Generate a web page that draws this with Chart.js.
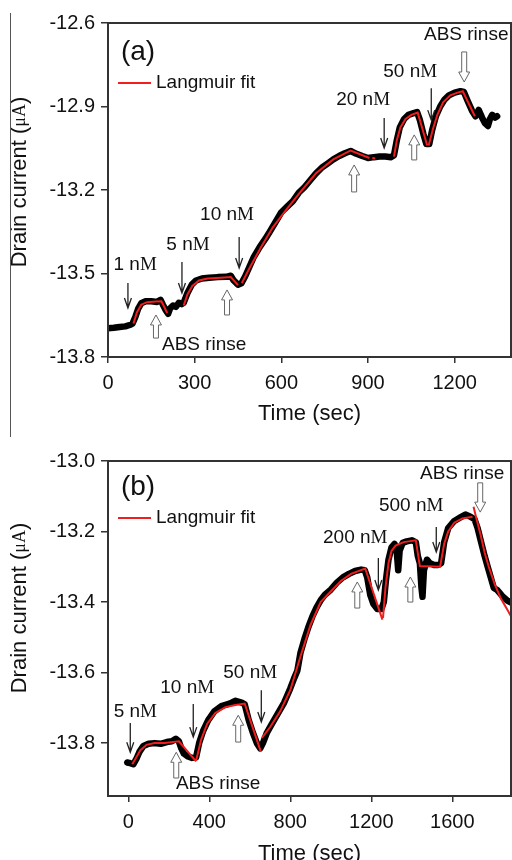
<!DOCTYPE html>
<html>
<head>
<meta charset="utf-8">
<script src="https://cdn.jsdelivr.net/npm/chart.js@4.4.0/dist/chart.umd.min.js"></script>
<style>
body{margin:0;width:512px;height:860px;overflow:hidden;background:#fff;position:relative}
#chartA{position:absolute;left:0;top:0}
#chartB{position:absolute;left:0;top:430px}
#rule{position:absolute;left:10px;top:13px;width:1px;height:424px;background:#555;z-index:2}
</style>
</head>
<body>
<canvas id="chartA" width="512" height="430"></canvas>
<canvas id="chartB" width="512" height="440"></canvas>
<div id="rule"></div>
<script>
// ---- panel (a) ----
const timeA = [0,20,40,60,75,85,95,105,115,130,150,170,182,190,200,208,215,225,235,245,255,262,275,290,305,325,350,380,410,425,435,450,462,475,490,505,525,545,560,580,600,620,640,660,680,700,720,740,760,780,800,820,840,860,880,900,920,940,960,980,990,1000,1010,1025,1040,1055,1070,1080,1092,1102,1112,1122,1135,1150,1165,1180,1200,1220,1232,1245,1260,1272,1283,1295,1305,1315,1322,1330,1340,1347];
const currentA = [-13.697,-13.695,-13.692,-13.69,-13.685,-13.68,-13.655,-13.625,-13.607,-13.6,-13.6,-13.602,-13.595,-13.612,-13.632,-13.645,-13.625,-13.615,-13.62,-13.605,-13.61,-13.605,-13.57,-13.54,-13.525,-13.518,-13.515,-13.513,-13.512,-13.508,-13.525,-13.54,-13.535,-13.51,-13.475,-13.44,-13.405,-13.375,-13.35,-13.315,-13.28,-13.26,-13.24,-13.21,-13.19,-13.165,-13.14,-13.12,-13.105,-13.09,-13.078,-13.068,-13.06,-13.07,-13.078,-13.085,-13.082,-13.08,-13.08,-13.082,-13.075,-13.02,-12.975,-12.945,-12.93,-12.925,-12.92,-12.95,-13.0,-13.035,-13.035,-12.985,-12.935,-12.9,-12.875,-12.86,-12.85,-12.845,-12.848,-12.88,-12.915,-12.935,-12.912,-12.94,-12.96,-12.97,-12.945,-12.93,-12.94,-12.935];
const fitTimeA = [88,100,115,135,165,185,205,null,262,275,292,315,345,390,425,450,null,463,490,530,570,610,660,720,780,840,905,null,915,925,null,990,1000,1012,1030,1050,1072,1105,null,1110,1125,1140,1160,1185,1210,1228,1270];
const fitCurrentA = [-13.68,-13.64,-13.612,-13.603,-13.601,-13.6,-13.642,null,-13.615,-13.575,-13.545,-13.525,-13.518,-13.515,-13.513,-13.542,null,-13.535,-13.48,-13.405,-13.335,-13.28,-13.215,-13.14,-13.09,-13.058,-13.085,null,-13.085,-13.087,null,-13.08,-13.02,-12.975,-12.945,-12.93,-12.922,-13.04,null,-13.04,-12.98,-12.93,-12.885,-12.86,-12.85,-12.845,-12.935];
const xTicksA = [0,300,600,900,1200];
const yTicksA = [-13.8,-13.5,-13.2,-12.9,-12.6];
const doseA = ['1','5','10','20','50'];
const doseArrowA = [[69,-13.534,-13.624],[256,-13.459,-13.57],[454,-13.369,-13.48],[956,-12.941,-13.049],[1119,-12.834,-12.949]];
const doseLabelA = [[94,-13.47],[277,-13.398],[412,-13.29],[883,-12.877],[1046,-12.776]];
const rinseArrowA = [[166,-13.732,-13.649],[412,-13.649,-13.559],[852,-13.207,-13.11],[1060,-13.092,-13.002],[1233,-12.704,-12.812]];
const rinseLabelA = [[333,-13.757],[1240,-12.643]];

// ---- panel (b) ----
const timeB = [-5,10,25,40,55,75,100,130,160,190,215,235,250,262,275,295,315,335,350,370,395,425,460,500,530,560,575,595,615,635,652,665,685,710,740,770,800,820,835,850,870,890,910,930,950,970,1000,1030,1060,1090,1120,1150,1168,1180,1195,1210,1230,1250,1262,1272,1285,1300,1315,1325,1333,1340,1355,1375,1400,1420,1430,1440,1448,1453,1460,1475,1490,1510,1530,1545,1560,1580,1610,1640,1665,1690,1710,1725,1740,1760,1775,1790,1805,1820,1835,1850,1870,1886];
const currentB = [-13.855,-13.857,-13.86,-13.845,-13.825,-13.808,-13.802,-13.8,-13.802,-13.797,-13.795,-13.788,-13.795,-13.815,-13.83,-13.838,-13.842,-13.84,-13.8,-13.765,-13.735,-13.71,-13.695,-13.688,-13.68,-13.685,-13.69,-13.735,-13.77,-13.8,-13.815,-13.8,-13.77,-13.745,-13.715,-13.685,-13.645,-13.615,-13.595,-13.545,-13.505,-13.47,-13.44,-13.415,-13.395,-13.38,-13.365,-13.345,-13.33,-13.32,-13.312,-13.308,-13.31,-13.33,-13.38,-13.405,-13.42,-13.42,-13.4,-13.34,-13.28,-13.245,-13.235,-13.25,-13.31,-13.255,-13.232,-13.228,-13.225,-13.23,-13.27,-13.29,-13.36,-13.385,-13.31,-13.28,-13.29,-13.295,-13.295,-13.29,-13.23,-13.19,-13.17,-13.16,-13.152,-13.158,-13.165,-13.19,-13.225,-13.27,-13.3,-13.33,-13.36,-13.365,-13.375,-13.385,-13.395,-13.4];
const fitTimeB = [20,40,60,90,130,180,250,335,null,335,360,390,430,480,530,575,655,null,660,700,750,800,850,900,950,1000,1050,1100,1170,1255,null,1258,1270,1285,1300,1320,1360,1420,1440,1540,1560,1580,1610,1650,1700,null,1705,1720,1740,1760,1780,1810,1840,1870,1890];
const fitCurrentB = [-13.86,-13.84,-13.82,-13.805,-13.8,-13.8,-13.795,-13.852,null,-13.85,-13.79,-13.745,-13.715,-13.698,-13.692,-13.688,-13.825,null,-13.785,-13.755,-13.71,-13.65,-13.555,-13.465,-13.4,-13.37,-13.34,-13.32,-13.305,-13.45,null,-13.445,-13.36,-13.29,-13.255,-13.24,-13.23,-13.225,-13.298,-13.3,-13.235,-13.2,-13.175,-13.163,-13.158,null,-13.13,-13.165,-13.21,-13.26,-13.3,-13.35,-13.39,-13.42,-13.44];
const xTicksB = [0,400,800,1200,1600];
const yTicksB = [-13.8,-13.6,-13.4,-13.2,-13.0];
const doseB = ['5','10','50','200','500'];
const doseArrowB = [[10,-13.743,-13.826],[321,-13.689,-13.783],[657,-13.65,-13.74],[1235,-13.275,-13.366],[1521,-13.187,-13.258]];
const doseLabelB = [[35,-13.712],[291,-13.644],[602,-13.601],[1121,-13.218],[1397,-13.128]];
const rinseArrowB = [[237,-13.899,-13.826],[543,-13.797,-13.721],[1131,-13.417,-13.343],[1393,-13.4,-13.329],[1738,-13.062,-13.145]];
const rinseLabelB = [[444,-13.916],[1649,-13.037]];

Chart.defaults.font.family = '"Liberation Sans", Arial, sans-serif';
Chart.defaults.color = '#111';

const SANS = '"Liberation Sans", Arial, sans-serif';
const SERIF = '"Liberation Serif", "Times New Roman", serif';

function pts(xs, ys) {
    let out = [], last = 0;
    xs.forEach((x, i) => {
        if (x === null) { out.push({x: last, y: null}); }
        else { out.push({x: x, y: ys[i]}); last = x; }
    });
    return out;
}

// draw a run of [text, font] pieces centred on x
function mixed(ctx, parts, x, y) {
    let total = 0;
    const widths = parts.map(p => { ctx.font = p[1]; const w = ctx.measureText(p[0]).width; total += w; return w; });
    let cx = x - total / 2;
    ctx.textAlign = 'left';
    parts.forEach((p, i) => { ctx.font = p[1]; ctx.fillText(p[0], cx, y); cx += widths[i]; });
}

function marks(tag, legY, titleY, doses, doseArrows, doseLabels, rinseArrows, rinseLabels) {
    return {
        id: 'marks' + tag,
        afterDatasetsDraw(chart) {
            const ctx = chart.ctx, xs = chart.scales.x, ys = chart.scales.y;
            const a = chart.chartArea;
            ctx.save();
            // dose arrows
            ctx.strokeStyle = '#222';
            ctx.lineWidth = 1.3;
            doseArrows.forEach(d => {
                const x = xs.getPixelForValue(d[0]), y0 = ys.getPixelForValue(d[1]), y1 = ys.getPixelForValue(d[2]);
                ctx.beginPath();
                ctx.moveTo(x, y0); ctx.lineTo(x, y1);
                ctx.moveTo(x - 3.5, y1 - 10); ctx.lineTo(x, y1); ctx.lineTo(x + 3.5, y1 - 10);
                ctx.stroke();
            });
            // dose labels
            ctx.fillStyle = '#111';
            ctx.textBaseline = 'middle';
            doseLabels.forEach((p, i) => {
                mixed(ctx, [[doses[i] + ' n', '19px ' + SANS], ['M', '19px ' + SERIF]],
                    xs.getPixelForValue(p[0]), ys.getPixelForValue(p[1]));
            });
            // hollow rinse arrows
            ctx.strokeStyle = '#666';
            ctx.fillStyle = '#fff';
            ctx.lineWidth = 1;
            rinseArrows.forEach(r => {
                const x = xs.getPixelForValue(r[0]), yb = ys.getPixelForValue(r[1]), yt = ys.getPixelForValue(r[2]);
                const s = yt < yb ? 1 : -1, h = yt + s * 10;
                ctx.beginPath();
                ctx.moveTo(x - 2.5, yb); ctx.lineTo(x - 2.5, h); ctx.lineTo(x - 5.5, h);
                ctx.lineTo(x, yt); ctx.lineTo(x + 5.5, h); ctx.lineTo(x + 2.5, h);
                ctx.lineTo(x + 2.5, yb); ctx.closePath();
                ctx.fill(); ctx.stroke();
            });
            ctx.fillStyle = '#111';
            ctx.textAlign = 'center';
            ctx.font = '19px ' + SANS;
            rinseLabels.forEach(p => {
                ctx.fillText('ABS rinse', xs.getPixelForValue(p[0]), ys.getPixelForValue(p[1]));
            });
            // panel tag and legend
            ctx.font = '28px ' + SANS;
            ctx.fillText('(' + tag + ')', a.left + 30, a.top + legY - 31);
            ctx.strokeStyle = 'rgb(240,30,30)';
            ctx.lineWidth = 2;
            ctx.beginPath();
            ctx.moveTo(a.left + 10, a.top + legY); ctx.lineTo(a.left + 43, a.top + legY);
            ctx.stroke();
            ctx.textAlign = 'left';
            ctx.font = '19px ' + SANS;
            ctx.fillText('Langmuir fit', a.left + 48, a.top + legY);
            // y-axis title with serif unit
            ctx.translate(20, a.top + titleY);
            ctx.rotate(-Math.PI / 2);
            mixed(ctx, [['Drain current (', '22px ' + SANS], ['\u03bcA', '18px ' + SERIF], [')', '22px ' + SANS]], 0, 0);
            ctx.restore();
        },
        afterDraw(chart) {
            const a = chart.chartArea, ctx = chart.ctx;
            ctx.save();
            ctx.strokeStyle = '#333';
            ctx.lineWidth = 2;
            ctx.strokeRect(a.left, a.top, a.right - a.left, a.bottom - a.top);
            ctx.restore();
        }
    };
}

function makeChart(id, padTop, axisH, xMin, xMax, yMin, yMax, xTicks, yTicks, times, currents, fitTimes, fitCurrents, extra) {
    return new Chart(document.getElementById(id), {
        type: 'line',
        data: {
            datasets: [{
                data: pts(times, currents),
                borderColor: '#000',
                borderWidth: 6.5,
                borderJoinStyle: 'round',
                borderCapStyle: 'round',
                pointRadius: 0,
                order: 2
            }, {
                data: pts(fitTimes, fitCurrents),
                borderColor: 'rgb(240,30,30)',
                borderWidth: 2,
                pointRadius: 0,
                spanGaps: false,
                order: 1
            }]
        },
        options: {
            responsive: false,
            animation: false,
            layout: { padding: { top: padTop, right: 1, left: 0, bottom: 0 } },
            plugins: { legend: { display: false }, tooltip: { enabled: false } },
            scales: {
                x: {
                    type: 'linear',
                    min: xMin,
                    max: xMax,
                    afterBuildTicks: s => { s.ticks = xTicks.map(v => ({ value: v })); },
                    afterFit: s => { s.height = axisH; },
                    grid: { drawOnChartArea: false, tickLength: 6, color: '#333', lineWidth: 1.5 },
                    border: { display: false },
                    ticks: { font: { size: 20 }, padding: 8, maxRotation: 0, callback: v => String(v) },
                    title: { display: true, text: 'Time (sec)', font: { size: 22 }, padding: { top: 0, bottom: 3 } }
                },
                y: {
                    min: yMin,
                    max: yMax,
                    afterBuildTicks: s => { s.ticks = yTicks.map(v => ({ value: v })); },
                    afterFit: s => { s.width = 108; },
                    grid: { drawOnChartArea: false, tickLength: 7, color: '#333', lineWidth: 1.5 },
                    border: { display: false },
                    ticks: { font: { size: 20 }, padding: 6, callback: v => v.toFixed(1) },
                    title: { display: false }
                }
            }
        },
        plugins: [extra]
    });
}

makeChart('chartA', 23, 73, 0, 1395, -13.8, -12.6, xTicksA, yTicksA, timeA, currentA, fitTimeA, fitCurrentA,
    marks('a', 60, 159, doseA, doseArrowA, doseLabelA, rinseArrowA, rinseLabelA));
makeChart('chartB', 31, 74, -100, 1890, -13.95, -13.0, xTicksB, yTicksB, timeB, currentB, fitTimeB, fitCurrentB,
    marks('b', 57, 147, doseB, doseArrowB, doseLabelB, rinseArrowB, rinseLabelB));
</script>
</body>
</html>
